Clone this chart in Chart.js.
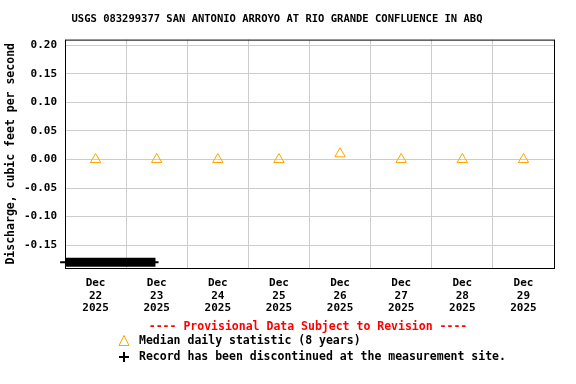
<!DOCTYPE html>
<html>
<head>
<meta charset="utf-8">
<script src="https://cdn.jsdelivr.net/npm/chart.js@4/dist/chart.umd.min.js"></script>
<style>
  html, body { margin: 0; padding: 0; background: #fff; }
  canvas { display: block; }
</style>
</head>
<body>
<canvas id="chart" width="576" height="384"></canvas>
<script>
// Chart data
const days = ['22', '23', '24', '25', '26', '27', '28', '29'];
const dayLabels = days.map(d => ['Dec', d, '2025']);
const medianValues = [0.0, 0.0, 0.0, 0.0, 0.01, 0.0, 0.0, 0.0];
const yTicks = [-0.15, -0.10, -0.05, 0.00, 0.05, 0.10, 0.15, 0.20];
// discontinued-record bar, in day-index units on the hidden linear axis
const discontinuedX = [-0.5, 0.98];
const discontinuedCapX = [-0.58, 1.03];
const discontinuedY = -0.18;

const MONO = '"DejaVu Sans Mono", "Liberation Mono", monospace';
const ORANGE = '#FFA500';

// frame around the plot area plus the notes under the chart
const framePlugin = {
    id: 'frame',
    afterDatasetsDraw(chart) {
        const { ctx, chartArea: a } = chart;
        ctx.save();
        ctx.strokeStyle = '#000';
        ctx.lineWidth = 1;
        ctx.strokeRect(a.left + 0.5, a.top + 0.5, a.right - a.left, a.bottom - a.top);
        ctx.restore();
    },
    afterDraw(chart) {
        const ctx = chart.ctx;
        ctx.save();
        ctx.font = 'bold 11.5px ' + MONO;
        ctx.textBaseline = 'middle';

        ctx.fillStyle = '#ff0000';
        ctx.textAlign = 'center';
        ctx.fillText('---- Provisional Data Subject to Revision ----', 308, 327);

        ctx.textAlign = 'left';
        ctx.fillStyle = '#000';
        ctx.fillText('Median daily statistic (8 years)', 139, 341);
        ctx.fillText('Record has been discontinued at the measurement site.', 139, 357);

        // legend symbols
        ctx.strokeStyle = ORANGE;
        ctx.lineWidth = 1;
        ctx.beginPath();
        ctx.moveTo(124, 335.5);
        ctx.lineTo(129, 345.5);
        ctx.lineTo(119, 345.5);
        ctx.closePath();
        ctx.stroke();

        ctx.strokeStyle = '#000';
        ctx.lineWidth = 2;
        ctx.beginPath();
        ctx.moveTo(119, 357);
        ctx.lineTo(129, 357);
        ctx.moveTo(124, 352);
        ctx.lineTo(124, 362);
        ctx.stroke();
        ctx.restore();
    }
};

const ctx = document.getElementById('chart').getContext('2d');

new Chart(ctx, {
    type: 'line',
    data: {
        labels: dayLabels,
        datasets: [
            {
                label: 'Median daily statistic (8 years)',
                data: medianValues,
                showLine: false,
                pointStyle: 'triangle',
                pointRadius: 6,
                pointBorderWidth: 1,
                pointBorderColor: ORANGE,
                pointBackgroundColor: 'rgba(0,0,0,0)'
            },
            {
                label: 'discontinued cap',
                xAxisID: 'x2',
                data: discontinuedCapX.map(x => ({ x: x, y: discontinuedY })),
                borderColor: '#000',
                borderWidth: 2,
                pointRadius: 0,
                clip: false
            },
            {
                label: 'Record discontinued',
                xAxisID: 'x2',
                data: discontinuedX.map(x => ({ x: x, y: discontinuedY })),
                borderColor: '#000',
                borderWidth: 9,
                borderCapStyle: 'butt',
                pointRadius: 0,
                clip: false
            }
        ]
    },
    options: {
        responsive: false,
        animation: false,
        layout: { padding: { left: 0, right: 22, top: 0, bottom: 0 } },
        plugins: {
            legend: { display: false },
            tooltip: { enabled: false },
            title: {
                display: true,
                text: 'USGS 083299377 SAN ANTONIO ARROYO AT RIO GRANDE CONFLUENCE IN ABQ',
                color: '#000',
                font: { family: MONO, size: 10.5, weight: 'bold' },
                padding: { top: 13, bottom: 14 },
                align: 'center'
            }
        },
        scales: {
            x: {
                type: 'category',
                offset: true,
                grid: { color: '#cccccc', offset: true, tickLength: 0 },
                border: { display: false },
                ticks: {
                    color: '#000',
                    font: { family: MONO, size: 11, weight: 'bold', lineHeight: 1.13 },
                    padding: 9,
                    maxRotation: 0,
                    autoSkip: false
                },
                afterFit(axis) { axis.height = 116; }
            },
            x2: {
                type: 'linear',
                display: false,
                min: -0.5,
                max: 7.5
            },
            y: {
                min: -0.19,
                max: 0.21,
                grid: { color: '#cccccc', tickLength: 0 },
                border: { display: false },
                afterBuildTicks(axis) { axis.ticks = yTicks.map(v => ({ value: v })); },
                ticks: {
                    color: '#000',
                    font: { family: MONO, size: 11, weight: 'bold' },
                    padding: 8,
                    callback: v => v.toFixed(2)
                },
                title: {
                    display: true,
                    text: 'Discharge, cubic feet per second',
                    color: '#000',
                    font: { family: MONO, size: 11.5, weight: 'bold' },
                    padding: { top: 4, bottom: 0 }
                },
                afterFit(axis) { axis.width = 65; }
            }
        }
    },
    plugins: [framePlugin]
});
</script>
</body>
</html>
